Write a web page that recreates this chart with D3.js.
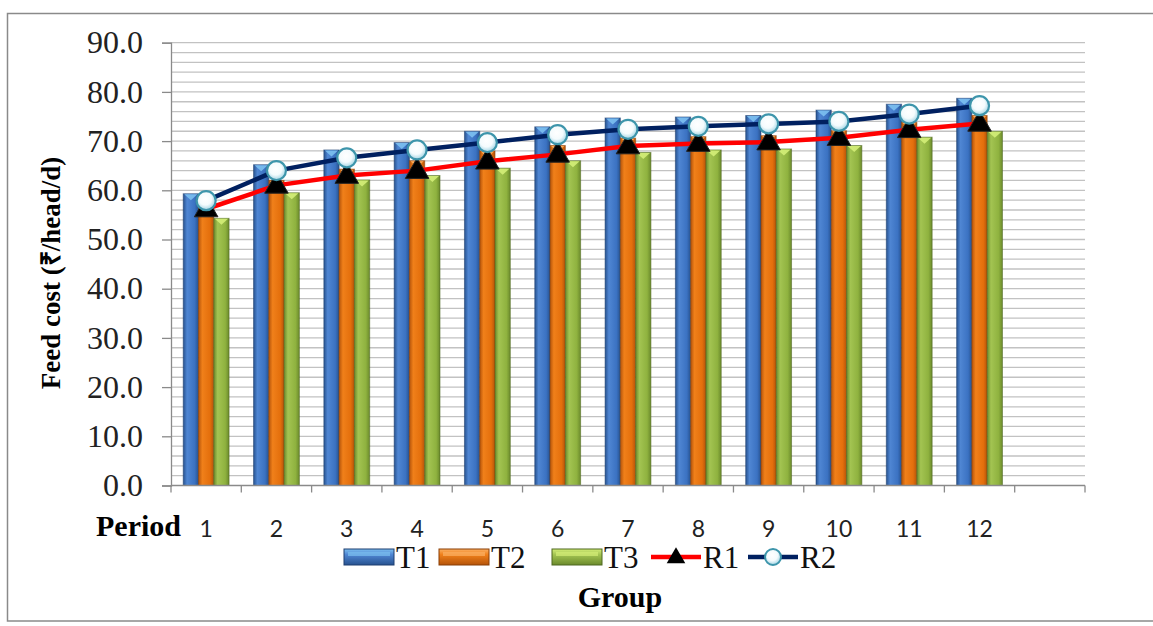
<!DOCTYPE html>
<html>
<head>
<meta charset="utf-8">
<script src="https://cdn.jsdelivr.net/npm/d3@7"></script>
<style>
  body { margin: 0; background: #fff; }
  svg { display: block; }
</style>
</head>
<body>
<svg id="chart" width="1153" height="626"></svg>
<script>
// Feed cost per head per day, by period and group
const periods = ["1", "2", "3", "4", "5", "6", "7", "8", "9", "10", "11", "12"];
const t1 = [59.3, 65.2, 68.2, 69.7, 72.0, 72.9, 74.7, 74.9, 75.2, 76.3, 77.5, 78.7];
const t2 = [56.5, 62.0, 64.3, 66.0, 68.0, 69.1, 70.6, 70.9, 71.1, 72.1, 73.8, 75.2];
const t3 = [54.3, 59.5, 62.1, 63.0, 64.5, 66.0, 67.7, 68.2, 68.4, 69.1, 70.8, 72.0];
const r1 = [56.2, 61.0, 63.0, 64.0, 65.9, 67.3, 69.0, 69.5, 69.8, 70.7, 72.3, 73.6];
const r2 = [57.9, 64.0, 66.6, 68.2, 69.7, 71.3, 72.4, 73.0, 73.5, 74.0, 75.5, 77.2];
const yTicks = [0, 10, 20, 30, 40, 50, 60, 70, 80, 90];
const barSeries = ["T1", "T2", "T3"];
const lineSeries = ["R1", "R2"];

const serif = "'Liberation Serif', 'Times New Roman', serif";
const svg = d3.select("#chart");
const defs = svg.append("defs");

// outer frame
svg.append("rect")
  .attr("x", 7.5).attr("y", 13.5).attr("width", 1150).attr("height", 607.5)
  .attr("fill", "none").attr("stroke", "#8a8a8a").attr("stroke-width", 1.5);

const plotL = 171, plotR = 1085, plotT = 42.7, plotB = 485.5;

// one empty slot after the last period
const x = d3.scaleBand().domain([...periods, ""]).range([plotL, plotR]);
const xg = d3.scaleBand().domain(barSeries).range([0, x.bandwidth()]).paddingOuter(0.8);
const y = d3.scaleLinear().domain([0, 90]).range([plotB, plotT]);

// horizontal gridlines every 2 units
svg.append("g").selectAll("line")
  .data(d3.range(2, 91, 2))
  .join("line")
  .attr("x1", plotL).attr("x2", plotR)
  .attr("y1", d => y(d)).attr("y2", d => y(d))
  .attr("stroke", "#c2c2c2").attr("stroke-width", 1.3);

// bar gradients
const palette = {
  T1: { dark: "#27528f", mid: "#3b72c2", light: "#4f86d3", cap: "#7cc0f0", edge: "#1f3f70" },
  T2: { dark: "#b5540a", mid: "#e46f0c", light: "#f0801a", cap: "#fbb064", edge: "#8a3f06" },
  T3: { dark: "#6b8a2c", mid: "#8fb23f", light: "#a3c452", cap: "#d4ee78", edge: "#4f6820" }
};
barSeries.forEach(k => {
  const c = palette[k];
  const g = defs.append("linearGradient").attr("id", "bar" + k)
    .attr("x1", 0).attr("x2", 1).attr("y1", 0).attr("y2", 0);
  g.append("stop").attr("offset", "0%").attr("stop-color", c.dark);
  g.append("stop").attr("offset", "25%").attr("stop-color", c.light);
  g.append("stop").attr("offset", "75%").attr("stop-color", c.mid);
  g.append("stop").attr("offset", "100%").attr("stop-color", c.dark);
  const lg = defs.append("linearGradient").attr("id", "leg" + k)
    .attr("x1", 0).attr("x2", 0).attr("y1", 0).attr("y2", 1);
  lg.append("stop").attr("offset", "0%").attr("stop-color", c.cap);
  lg.append("stop").attr("offset", "35%").attr("stop-color", c.light);
  lg.append("stop").attr("offset", "100%").attr("stop-color", c.dark);
});
const rg = defs.append("radialGradient").attr("id", "bead")
  .attr("cx", "45%").attr("cy", "40%").attr("r", "60%");
rg.append("stop").attr("offset", "0%").attr("stop-color", "#ffffff");
rg.append("stop").attr("offset", "55%").attr("stop-color", "#f4fbfd");
rg.append("stop").attr("offset", "100%").attr("stop-color", "#9fd3e3");

const seriesValues = { T1: t1, T2: t2, T3: t3 };
const barData = [];
periods.forEach((p, i) => barSeries.forEach(k => barData.push({ p, k, v: seriesValues[k][i] })));

const bars = svg.append("g").selectAll("g").data(barData).join("g")
  .attr("transform", d => `translate(${x(d.p) + xg(d.k)},0)`);
bars.append("rect")
  .attr("x", 0).attr("width", xg.bandwidth())
  .attr("y", d => y(d.v)).attr("height", d => y(0) - y(d.v))
  .attr("fill", d => `url(#bar${d.k})`)
  .attr("stroke", d => palette[d.k].edge).attr("stroke-opacity", 0.55).attr("stroke-width", 1);
// bevelled cap on each bar top
bars.append("path")
  .attr("d", d => {
    const w = xg.bandwidth(), y0 = y(d.v) + 0.5;
    return `M1,${y0}L${w - 1},${y0}L${w / 2},${y0 + 6}Z`;
  })
  .attr("fill", d => palette[d.k].cap).attr("opacity", 0.9);

// axes
const yAxis = svg.append("g").attr("transform", `translate(${plotL},0)`)
  .call(d3.axisLeft(y).tickValues(yTicks).tickFormat(d3.format(".1f")).tickSize(9).tickPadding(19));
yAxis.select(".domain").attr("stroke", "#8a8a8a").attr("stroke-width", 1.3);
yAxis.selectAll(".tick line").attr("stroke", "#8a8a8a").attr("stroke-width", 1.3);
yAxis.selectAll(".tick text").attr("font-family", serif).attr("font-size", 32).attr("fill", "#222");

const xAxis = svg.append("g").attr("transform", `translate(0,${plotB})`);
xAxis.append("line").attr("x1", plotL).attr("x2", plotR).attr("stroke", "#8a8a8a").attr("stroke-width", 1.3);
xAxis.selectAll("line.tk").data([...x.domain().map(d => x(d)), plotR]).join("line")
  .attr("class", "tk").attr("x1", d => d).attr("x2", d => d).attr("y1", 0).attr("y2", 7)
  .attr("stroke", "#8a8a8a").attr("stroke-width", 1.3);
xAxis.selectAll("text").data(periods).join("text")
  .attr("x", d => x(d) + x.bandwidth() / 2).attr("y", 51)
  .attr("text-anchor", "middle")
  .attr("font-family", "Lato, 'Liberation Sans', sans-serif").attr("font-size", 23).attr("fill", "#222")
  .text(d => d);

svg.append("text").attr("x", 96).attr("y", 536)
  .attr("font-family", serif).attr("font-weight", "bold").attr("font-size", 30).attr("fill", "#000")
  .text("Period");

svg.append("text")
  .attr("transform", "translate(60,273) rotate(-90)")
  .attr("text-anchor", "middle")
  .attr("font-family", serif).attr("font-weight", "bold").attr("font-size", 27).attr("fill", "#000")
  .text("Feed cost (₹/head/d)");

// lines with markers
const line = d3.line().x((d, i) => x(periods[i]) + x.bandwidth() / 2).y(d => y(d));
const triangle = d3.symbol().type(d3.symbolTriangle).size(240);

svg.append("path").datum(r1).attr("d", line)
  .attr("fill", "none").attr("stroke", "#ff0000").attr("stroke-width", 4.5).attr("stroke-linejoin", "round");
svg.append("g").selectAll("path").data(r1).join("path")
  .attr("transform", (d, i) => `translate(${x(periods[i]) + x.bandwidth() / 2},${y(d) + 1})`)
  .attr("d", triangle).attr("fill", "#000").attr("stroke", "#222").attr("stroke-width", 1);

svg.append("path").datum(r2).attr("d", line)
  .attr("fill", "none").attr("stroke", "#002060").attr("stroke-width", 4.5).attr("stroke-linejoin", "round");
svg.append("g").selectAll("circle").data(r2).join("circle")
  .attr("cx", (d, i) => x(periods[i]) + x.bandwidth() / 2).attr("cy", d => y(d))
  .attr("r", 9.5).attr("fill", "url(#bead)").attr("stroke", "#3d95ab").attr("stroke-width", 2.2);

// legend
const legend = svg.append("g").attr("transform", "translate(0,557)");
const legItems = [
  { k: "T1", x: 344 }, { k: "T2", x: 439 }, { k: "T3", x: 552 },
  { k: "R1", x: 651 }, { k: "R2", x: 748 }
];
legItems.forEach(it => {
  const g = legend.append("g").attr("transform", `translate(${it.x},0)`);
  if (barSeries.includes(it.k)) {
    g.append("rect").attr("x", 0).attr("y", -8).attr("width", 50).attr("height", 16)
      .attr("fill", `url(#leg${it.k})`).attr("stroke", palette[it.k].edge).attr("stroke-width", 1);
    g.append("rect").attr("x", 4).attr("y", -5).attr("width", 42).attr("height", 4)
      .attr("fill", palette[it.k].cap).attr("opacity", 0.7);
  } else if (it.k === "R1") {
    g.append("line").attr("x1", 0).attr("x2", 50).attr("stroke", "#ff0000").attr("stroke-width", 4.5);
    g.append("path").attr("transform", "translate(25,1)").attr("d", d3.symbol().type(d3.symbolTriangle).size(150)()).attr("fill", "#000");
  } else {
    g.append("line").attr("x1", 0).attr("x2", 50).attr("stroke", "#002060").attr("stroke-width", 4.5);
    g.append("circle").attr("cx", 25).attr("r", 8).attr("fill", "url(#bead)").attr("stroke", "#3d95ab").attr("stroke-width", 2);
  }
  g.append("text").attr("x", 52).attr("y", 11)
    .attr("font-family", serif).attr("font-size", 31).attr("fill", "#111").text(it.k);
});

svg.append("text").attr("x", 620).attr("y", 607).attr("text-anchor", "middle")
  .attr("font-family", serif).attr("font-weight", "bold").attr("font-size", 30).attr("fill", "#000")
  .text("Group");
</script>
</body>
</html>
